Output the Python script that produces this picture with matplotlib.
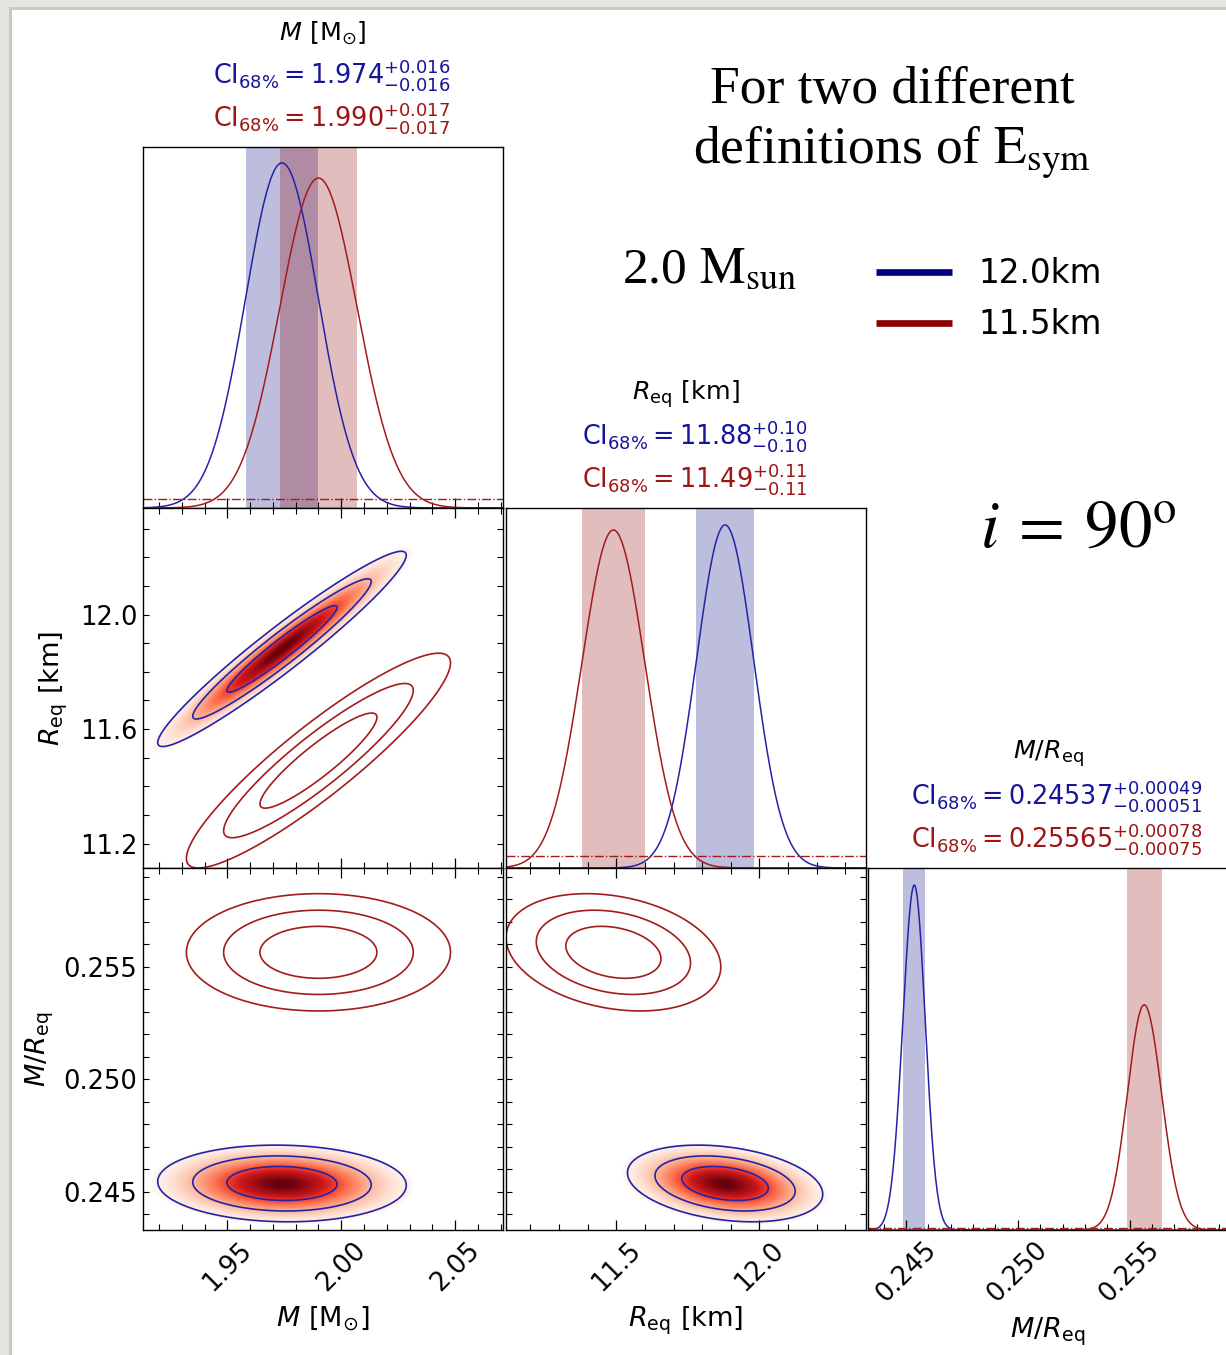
#!/usr/bin/env python3
"""Corner plot of M, R_eq and M/R_eq for two E_sym definitions."""

import numpy as np
import matplotlib

matplotlib.use("Agg")
import matplotlib.pyplot as plt
from matplotlib.colors import LinearSegmentedColormap, PowerNorm
from matplotlib.lines import Line2D
from matplotlib.patches import Rectangle
from matplotlib.ticker import FormatStrFormatter, MultipleLocator

# --- data ------------------------------------------------------------------
param_titles = [r"$M\ [\mathrm{M}_{\odot}]$", r"$R_{\mathrm{eq}}\ [\mathrm{km}]$", r"$M/R_{\mathrm{eq}}$"]
param_ranges = [(1.913, 2.071), (11.115, 12.372), (0.2433, 0.2594)]
major_x = [0.05, 0.5, 0.005]
major_y = [0.05, 0.4, 0.005]
minor_step = [0.01, 0.1, 0.001]
tick_fmt = ["%.2f", "%.1f", "%.3f"]
num_fmt = ["{:.3f}", "{:.2f}", "{:.5f}"]
err_fmt = ["{:.3f}", "{:.2f}", "{:.5f}"]

blue_med = [1.974, 11.88, 0.24537]
blue_lo = [0.016, 0.10, 0.00051]
blue_hi = [0.016, 0.10, 0.00049]
red_med = [1.990, 11.49, 0.25565]
red_lo = [0.017, 0.11, 0.00075]
red_hi = [0.017, 0.11, 0.00078]

# peak heights of the 1D curves, as a fraction of the panel height
blue_peak = [0.956, 0.953, 0.953]
red_peak = [0.914, 0.939, 0.622]
# prior (dash-dot) level, fraction of the panel height
prior_level = [0.025, 0.033, 0.005]

# correlations for the pairs (M,Req), (M,M/R), (Req,M/R)
pairs = [(1, 0), (2, 0), (2, 1)]
blue_rho = [0.96, -0.05, -0.28]
red_rho = [0.91, 0.0, -0.25]

cred_levels = [0.997, 0.95, 0.68]

legend_labels = ["12.0km", "11.5km"]

# --- style -------------------------------------------------------------------
BLUE_LINE = "#2323a6"
RED_LINE = "#a31b1b"
BLUE_TXT = "#15159c"
RED_TXT = "#9e1515"
NAVY = "#000080"
DARKRED = "#8b0000"

W, H = 1226, 1355
fig = plt.figure(figsize=(W / 100, H / 100), dpi=100, facecolor="#e6e4df")
fig.add_artist(Rectangle((9 / W, 0), 1, 1 - 7 / H, transform=fig.transFigure,
                         facecolor="#cbc8c2", edgecolor="none", zorder=-11))
fig.add_artist(Rectangle((12 / W, 0), 1, 1 - 10 / H, transform=fig.transFigure,
                         facecolor="white", edgecolor="none", zorder=-10))

col_x = [(143, 503), (506, 866), (868, 1228)]
row_y = [(147, 508), (508, 868), (868, 1230)]

dens_cmap = LinearSegmentedColormap.from_list(
    "dens", ["#ffffff", "#fee0d2", "#fcbba1", "#fc9272", "#fb6a4a",
             "#ef3b2c", "#cb181d", "#a50f15", "#67000d"])

plt.rcParams["mathtext.fontset"] = "dejavusans"


def px_axes(c, r):
    x0, x1 = col_x[c]
    y0, y1 = row_y[r]
    return fig.add_axes([x0 / W, 1 - y1 / H, (x1 - x0) / W, (y1 - y0) / H])


def split_shape(x, med, lo, hi):
    sig = np.where(x < med, lo, hi)
    return np.exp(-0.5 * ((x - med) / sig) ** 2)


def gauss2d(X, Y, mx, my, sx, sy, rho):
    zx = (X - mx) / sx
    zy = (Y - my) / sy
    q = (zx ** 2 - 2 * rho * zx * zy + zy ** 2) / (1 - rho ** 2)
    return np.exp(-0.5 * q)


def style_axis(ax, i, which):
    if which == "x":
        ax.xaxis.set_major_locator(MultipleLocator(major_x[i]))
        ax.xaxis.set_minor_locator(MultipleLocator(minor_step[i]))
        ax.xaxis.set_major_formatter(FormatStrFormatter(tick_fmt[i]))
    else:
        ax.yaxis.set_major_locator(MultipleLocator(major_y[i]))
        ax.yaxis.set_minor_locator(MultipleLocator(minor_step[i]))
        ax.yaxis.set_major_formatter(FormatStrFormatter(tick_fmt[i]))


def finish(ax, row, col, diag):
    for s in ax.spines.values():
        s.set_linewidth(1.0)
    ax.tick_params(axis="x", which="major", direction="in", length=7, width=0.9,
                   labelsize=18.5, pad=5, labelrotation=45,
                   top=not diag, bottom=True)
    ax.tick_params(axis="x", which="minor", direction="in", length=4, width=0.8,
                   top=not diag, bottom=True)
    ax.tick_params(axis="y", which="both", direction="in", length=4.5, width=0.8,
                   labelsize=18.5, pad=4, left=not diag, right=not diag)
    if row != 2:
        ax.tick_params(axis="x", labelbottom=False)
    if col != 0 or diag:
        ax.tick_params(axis="y", labelleft=False)


n = len(param_titles)
grid = [np.linspace(lo, hi, 500) for lo, hi in param_ranges]
TITLE_FS = 18.3
CI_FS = 18.4
LABEL_FS = 19.5

# diagonal panels
for i in range(n):
    ax = px_axes(i, i)
    x = grid[i]
    pb = split_shape(x, blue_med[i], blue_lo[i], blue_hi[i]) * blue_peak[i]
    pr = split_shape(x, red_med[i], red_lo[i], red_hi[i]) * red_peak[i]
    ax.axvspan(blue_med[i] - blue_lo[i], blue_med[i] + blue_hi[i], color=NAVY, alpha=0.26, lw=0)
    ax.axvspan(red_med[i] - red_lo[i], red_med[i] + red_hi[i], color=DARKRED, alpha=0.26, lw=0)
    ax.plot(x, pb, color=BLUE_LINE, lw=1.1)
    ax.plot(x, pr, color=RED_LINE, lw=1.1)
    ax.axhline(prior_level[i], color=RED_LINE, ls="-.", lw=1.0)
    ax.set_xlim(param_ranges[i])
    ax.set_ylim(0, 1)
    ax.set_yticks([])
    style_axis(ax, i, "x")
    finish(ax, i, i, True)

    xc = (col_x[i][0] + col_x[i][1]) / 2
    top = row_y[i][0]
    fig.text(xc / W, 1 - (top - 114) / H, param_titles[i], fontsize=TITLE_FS,
             ha="center", va="center")
    for k, (med, lo, hi, colr) in enumerate([(blue_med[i], blue_lo[i], blue_hi[i], BLUE_TXT),
                                             (red_med[i], red_lo[i], red_hi[i], RED_TXT)]):
        s = (r"$\mathrm{CI}_{68\%} = " + num_fmt[i].format(med)
             + "^{+" + err_fmt[i].format(hi) + "}_{-" + err_fmt[i].format(lo) + "}$")
        fig.text((xc + 9) / W, 1 - (top - 72 + 43 * k) / H, s, fontsize=CI_FS,
                 color=colr, ha="center", va="center")
    if i == 2:
        ax.set_xlabel(param_titles[i], fontsize=LABEL_FS)
        ax.xaxis.set_label_coords(0.5, -0.237)

# off-diagonal panels
levels = sorted(1 - p for p in cred_levels)
for k, (r, c) in enumerate(pairs):
    ax = px_axes(c, r)
    X, Y = np.meshgrid(grid[c], grid[r])
    db = gauss2d(X, Y, blue_med[c], blue_med[r],
                 (blue_lo[c] + blue_hi[c]) / 2, (blue_lo[r] + blue_hi[r]) / 2, blue_rho[k])
    dr = gauss2d(X, Y, red_med[c], red_med[r],
                 (red_lo[c] + red_hi[c]) / 2, (red_lo[r] + red_hi[r]) / 2, red_rho[k])
    ax.pcolormesh(X, Y, db, cmap=dens_cmap, norm=PowerNorm(0.45, vmin=0.0015, vmax=1),
                  shading="gouraud", rasterized=True)
    ax.contour(X, Y, db, levels=levels, colors=BLUE_LINE, linewidths=1.2)
    ax.contour(X, Y, dr, levels=levels, colors=RED_LINE, linewidths=1.2)
    ax.set_xlim(param_ranges[c])
    ax.set_ylim(param_ranges[r])
    style_axis(ax, c, "x")
    style_axis(ax, r, "y")
    finish(ax, r, c, False)
    if r == 2:
        ax.set_xlabel(param_titles[c], fontsize=LABEL_FS)
        ax.xaxis.set_label_coords(0.5, -0.205)
    if c == 0:
        ax.set_ylabel(param_titles[r], fontsize=LABEL_FS)
        ax.yaxis.set_label_coords(-0.203 if r == 1 else -0.242, 0.5)

# annotations on the right
serif = "Liberation Serif"
fig.text(892 / W, 1 - 103 / H, "For two different", family=serif, fontsize=38.5,
         ha="center", va="baseline")
fig.text(892 / W, 1 - 163 / H, r"definitions of $\mathrm{E}_{\mathrm{sym}}$", family=serif,
         fontsize=38.5, ha="center", va="baseline", math_fontfamily="stix")
fig.text(622 / W, 1 - 283 / H, r"2.0 $\mathrm{M}_{\mathrm{sun}}$", family=serif, fontsize=37,
         ha="left", va="baseline", math_fontfamily="stix")
fig.text(980 / W, 1 - 547 / H, r"$i\:=\:90^{\mathrm{o}}$", family=serif, fontsize=48,
         ha="left", va="baseline", math_fontfamily="stix")

for j, (lab, colr) in enumerate(zip(legend_labels, [NAVY, DARKRED])):
    yl = 272 + 51 * j
    fig.add_artist(Line2D([876 / W, 952 / W], [1 - yl / H, 1 - yl / H],
                          transform=fig.transFigure, color=colr, lw=4.8,
                          solid_capstyle="butt"))
    fig.text(978 / W, 1 - (yl + 11) / H, lab, fontsize=23.5, ha="left", va="baseline")

fig.savefig("out.png", dpi=100, facecolor=fig.get_facecolor())
